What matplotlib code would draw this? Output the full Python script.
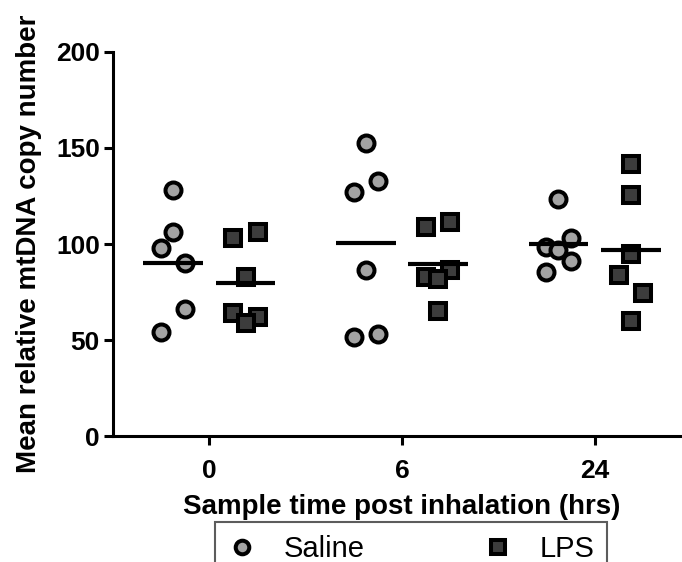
import numpy as np
import matplotlib
matplotlib.use("Agg")
import matplotlib.pyplot as plt

plt.rcParams['font.family'] = ['Liberation Sans', 'DejaVu Sans']

# time points (hrs) and groups
time_labels = ["0", "6", "24"]
groups = ["Saline", "LPS"]

# mean relative mtDNA copy number, one list per time point
saline_vals = [
    [128, 106, 98, 90, 66, 54],
    [152.5, 133, 127, 86.5, 53, 51.5],
    [123.5, 103, 98.5, 97, 91, 85.5],
]
lps_vals = [
    [106, 103, 83, 64, 62, 59],
    [111.5, 109, 86.5, 83, 82, 65],
    [141.5, 125.5, 95, 84, 74.5, 60],
]

# horizontal spread of points inside each column (layout only)
saline_jit = [
    [0, 0, -1, 1, 1, -1],
    [0, 1, -1, 0, 1, -1],
    [0, 1, -1, 0, 1, -1],
]
lps_jit = [
    [1, -1, 0, -1, 1, 0],
    [1, -1, 1, -1, 0, 0],
    [0, 0, 0, -1, 1, 0],
]

W, H = 682, 562
fig = plt.figure(figsize=(W / 100, H / 100), dpi=100)
ax = fig.add_axes([113 / W, (H - 436) / H, 578 / W, 384 / H])

off = 0.188     # column offset from the time tick
jw = 0.063      # jitter step
hw = 0.155      # half width of mean bar

styles = {
    "Saline": dict(marker="o", ms=11.5, mfc="#a3a3a3"),
    "LPS": dict(marker="s", ms=12, mfc="#3c3c3c"),
}

for i in range(len(time_labels)):
    for g, vals, jit, sgn in [("Saline", saline_vals, saline_jit, -1),
                              ("LPS", lps_vals, lps_jit, 1)]:
        xc = i + sgn * off
        xs = xc + np.array(jit[i]) * jw
        ax.plot(xs, vals[i], ls="none", mec="black", mew=2.9,
                solid_joinstyle="round", zorder=3, **styles[g],
                label=g if i == 0 else None)
        m = np.mean(vals[i])
        ax.plot([xc - hw, xc + hw], [m, m], color="black", lw=3,
                solid_capstyle="butt", zorder=4)

ax.set_xlim(-0.5, 2.5)
ax.set_ylim(0, 200)
ax.set_xticks(range(len(time_labels)))
ax.set_xticklabels(time_labels)
ax.set_yticks([0, 50, 100, 150, 200])

for s in ["top", "right"]:
    ax.spines[s].set_visible(False)
for s in ["left", "bottom"]:
    ax.spines[s].set_linewidth(2.2)
ax.tick_params(width=2.2, length=6.5, labelsize=19, pad=3)
ax.tick_params(axis="x", pad=10)
for lab in ax.get_xticklabels() + ax.get_yticklabels():
    lab.set_fontweight("bold")

ax.set_xlabel("Sample time post inhalation (hrs)", fontsize=20,
              fontweight="bold", labelpad=8)
ax.set_ylabel("Mean relative mtDNA copy number", fontsize=20,
              fontweight="bold", labelpad=10)

leg = fig.legend(loc="upper center", bbox_to_anchor=(411 / W, 1 - 522 / H),
                 ncol=2, fontsize=21, frameon=True, fancybox=False,
                 markerscale=0.85, handlelength=1.0, handletextpad=0.9,
                 columnspacing=4.1, borderpad=0.45, borderaxespad=0)
leg.get_frame().set_edgecolor("#333333")
leg.get_frame().set_linewidth(1.5)

fig.savefig("out.png", dpi=100)
